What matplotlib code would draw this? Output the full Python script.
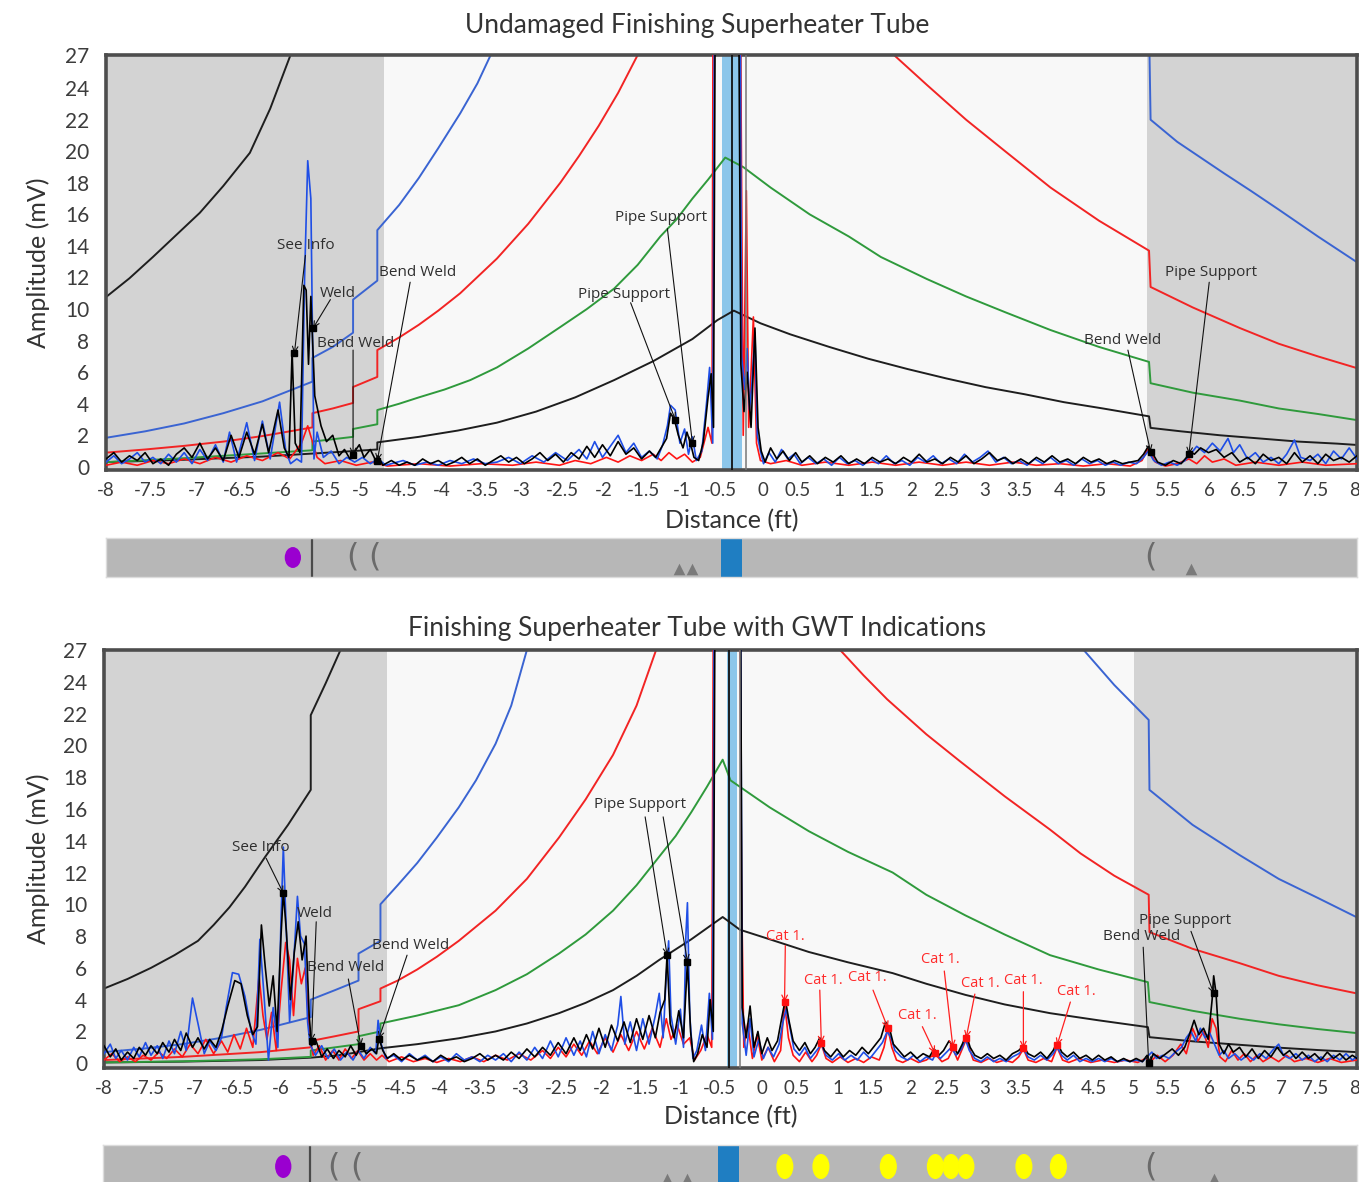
import matplotlib
matplotlib.use("Agg")
import matplotlib.pyplot as plt
from matplotlib.patches import Ellipse, Rectangle

# ---- axis ticks (label text sits where it sits in the source image) ----
tick_pos = [-8.0, -7.43, -6.84, -6.29, -5.74, -5.21, -4.74, -4.22, -3.71, -3.19, -2.68,
            -2.16, -1.64, -1.13, -0.63, -0.14, 0.40, 0.84, 1.37, 1.79, 2.30, 2.75, 3.24,
            3.68, 4.19, 4.64, 5.15, 5.59, 6.11, 6.54, 7.04, 7.47, 7.97]
tick_labels = ['-8', '-7.5', '-7', '-6.5', '-6', '-5.5', '-5', '-4.5', '-4', '-3.5', '-3',
               '-2.5', '-2', '-1.5', '-1', '-0.5', '0', '0.5', '1', '1.5', '2', '2.5', '3',
               '3.5', '4', '4.5', '5', '5.5', '6', '6.5', '7', '7.5', '8']
ytick_vals = [0, 2, 4, 6, 8, 10, 12, 14, 16, 18, 20, 22, 24]
ytick_labels = ['0', '2', '4', '6', '8', '10', '12', '14', '16', '18', '20', '22', '24']

# ---- gated (gray) zones ----
top_gray = [(-8.0, -4.44), (5.31, 8.0)]
bot_gray = [(-8.0, -4.39), (5.15, 8.0)]

# ---- DAC curves, top panel ----
top_dac_black_x = [-8.0, -7.5, -7.0, -6.5, -6.0, -5.5, -5.0, -4.53, -4.53, -4.0, -3.5, -3.0, -2.5, -2.0, -1.5,
                   -1.0, -0.5, -0.18, 0.03, 0.37, 0.75, 1.25, 1.75, 2.25, 2.75, 3.25, 3.75, 4.25, 4.75, 5.34,
                   5.36, 5.75, 6.25, 6.75, 7.25, 7.75, 7.99]
top_dac_black_y = [0.3, 0.37, 0.45, 0.55, 0.65, 0.8, 0.95, 1.1, 1.55, 1.9, 2.3, 2.8, 3.5, 4.4, 5.5,
                   6.7, 8.1, 9.3, 9.9, 9.1, 8.4, 7.6, 6.85, 6.2, 5.6, 5.05, 4.6, 4.1, 3.7, 3.2,
                   2.47, 2.25, 2.0, 1.8, 1.6, 1.47, 1.39]
top_dac_green_x = [-8.0, -7.5, -7.0, -6.5, -6.0, -5.36, -5.36, -5.1, -4.84, -4.84, -4.53, -4.53, -4.25, -4.0,
                   -3.67, -3.34, -3.0, -2.6, -2.19, -1.85, -1.5, -1.2, -0.91, -0.7, -0.5, -0.3, -0.08,
                   0.15, 0.5, 1.0, 1.5, 1.91, 2.5, 3.0, 3.5, 4.08, 4.7, 5.34, 5.36, 5.9, 6.5, 7.0, 7.5, 7.99]
top_dac_green_y = [0.3, 0.42, 0.55, 0.7, 0.85, 1.05, 1.6, 1.75, 1.9, 2.4, 2.7, 3.6, 4.0, 4.4,
                   4.9, 5.5, 6.3, 7.5, 8.86, 10.0, 11.3, 12.8, 14.6, 15.7, 17.0, 18.2, 19.6,
                   19.0, 17.7, 16.0, 14.6, 13.3, 11.9, 10.8, 9.8, 8.67, 7.6, 6.65, 5.3, 4.7, 4.2, 3.7, 3.35, 2.97]
top_dac_red_x = [-8.0, -7.5, -7.0, -6.5, -6.0, -5.36, -5.36, -5.1, -4.84, -4.84, -4.53, -4.53, -4.25, -4.0,
                 -3.75, -3.47, -3.0, -2.6, -2.19, -1.95, -1.7, -1.45, -1.2, -0.9, -0.8,
                 1.5, 1.8, 2.1, 2.5, 3.0, 3.5, 4.08, 4.7, 5.34, 5.36, 5.9, 6.5, 7.0, 7.5, 7.99]
top_dac_red_y = [0.9, 1.1, 1.33, 1.6, 1.95, 2.5, 3.4, 3.7, 4.05, 5.06, 5.7, 7.4, 8.2, 9.0,
                 9.9, 11.0, 13.2, 15.4, 18.0, 19.7, 21.6, 23.7, 26.1, 29.0, 30.0,
                 29.2, 27.6, 26.0, 24.2, 22.0, 20.0, 17.7, 15.6, 13.7, 11.4, 10.1, 8.8, 7.8, 7.0, 6.27]
top_dac_blue_x = [-8.0, -7.5, -7.0, -6.5, -6.0, -5.36, -5.36, -5.1, -4.84, -4.84, -4.53, -4.53, -4.25, -4.0,
                  -3.75, -3.47, -3.25, -3.08, -2.8, -2.5,
                  4.5, 5.34, 5.36, 5.7, 6.0, 6.3, 6.64, 7.0, 7.5, 7.99]
top_dac_blue_y = [1.84, 2.25, 2.75, 3.4, 4.15, 5.4, 6.9, 7.6, 8.5, 10.6, 11.8, 15.0, 16.6, 18.3,
                  20.2, 22.4, 24.3, 26.1, 29.0, 32.0,
                  32.0, 28.0, 22.0, 20.6, 19.6, 18.6, 17.5, 16.3, 14.6, 13.0]
top_far_x = [-8.0, -7.7, -7.4, -7.1, -6.8, -6.5, -6.16, -5.9, -5.64, -5.4]
top_far_y = [10.76, 11.95, 13.3, 14.7, 16.1, 17.8, 19.9, 22.7, 26.1, 29.0]

# ---- DAC curves, bottom panel ----
bot_dac_black_x = [-8.0, -7.0, -6.0, -5.36, -5.0, -4.75, -4.47, -4.0, -3.47, -3.0, -2.6, -2.19, -1.85, -1.5,
                   -1.2, -0.91, -0.5, -0.1, 0.12, 0.5, 1.0, 1.5, 2.07, 2.5, 3.0, 3.5, 4.08, 4.7, 5.33,
                   5.35, 5.9, 6.5, 7.0, 7.5, 7.99]
bot_dac_black_y = [0.05, 0.1, 0.2, 0.35, 0.5, 0.7, 0.94, 1.2, 1.57, 2.0, 2.5, 3.15, 3.8, 4.6,
                   5.5, 6.5, 7.8, 9.2, 8.4, 7.8, 7.0, 6.35, 5.67, 5.0, 4.3, 3.7, 3.15, 2.7, 2.27,
                   1.64, 1.38, 1.16, 0.98, 0.83, 0.7]
bot_dac_green_x = [-8.0, -7.0, -6.0, -5.36, -5.36, -5.05, -4.75, -4.75, -4.47, -4.47, -4.0, -3.47, -3.0, -2.6,
                   -2.19, -1.85, -1.5, -1.2, -0.91, -0.7, -0.5, -0.3, -0.1, 0.0, 0.5, 1.0, 1.5, 2.07, 2.5,
                   3.0, 3.5, 4.08, 4.7, 5.33, 5.35, 5.9, 6.5, 7.0, 7.5, 7.99]
bot_dac_green_y = [0.05, 0.12, 0.25, 0.4, 0.8, 1.0, 1.2, 1.7, 2.0, 2.5, 3.0, 3.65, 4.6, 5.6,
                   6.9, 8.1, 9.6, 11.2, 13.0, 14.3, 15.8, 17.4, 19.1, 17.8, 16.1, 14.6, 13.3, 12.0, 10.6,
                   9.3, 8.1, 6.8, 5.9, 5.1, 3.85, 3.3, 2.8, 2.45, 2.15, 1.9]
bot_dac_red_x = [-8.0, -7.5, -7.0, -6.5, -6.0, -5.36, -5.36, -5.05, -4.75, -4.75, -4.47, -4.47, -4.25, -4.0,
                 -3.75, -3.47, -3.0, -2.6, -2.19, -1.85, -1.5, -1.2, -0.95, -0.6,
                 1.0, 1.4, 1.7, 2.0, 2.5, 2.93, 3.5, 4.08, 4.47, 4.9, 5.34, 5.35, 5.9, 6.5, 7.0, 7.5, 7.99]
bot_dac_red_y = [0.2, 0.3, 0.4, 0.55, 0.7, 1.0, 1.4, 1.7, 2.0, 3.4, 3.9, 4.7, 5.2, 5.9,
                 6.7, 7.7, 9.6, 11.6, 14.2, 16.6, 19.4, 22.5, 26.0, 31.0,
                 30.0, 26.0, 24.4, 22.9, 20.7, 19.0, 16.8, 14.7, 13.2, 11.8, 10.6, 8.25, 7.2, 6.3, 5.5, 4.9, 4.4]
bot_dac_blue_x = [-8.0, -7.5, -7.0, -6.5, -6.0, -5.36, -5.36, -5.05, -4.75, -4.75, -4.47, -4.47, -4.25, -4.0,
                  -3.75, -3.47, -3.25, -3.0, -2.8, -2.6, -2.3,
                  3.8, 4.2, 4.51, 4.9, 5.34, 5.35, 5.9, 6.5, 7.0, 7.5, 7.99]
bot_dac_blue_y = [0.7, 0.92, 1.2, 1.6, 2.1, 2.9, 4.0, 4.6, 5.2, 6.9, 7.7, 10.0, 11.2, 12.6,
                  14.2, 16.1, 17.8, 20.1, 22.5, 26.0, 30.0,
                  30.0, 27.8, 26.0, 23.8, 21.6, 17.2, 15.0, 13.1, 11.6, 10.4, 9.2]
bot_far_x = [-8.0, -7.7, -7.4, -7.1, -6.8, -6.6, -6.4, -6.2, -5.94, -5.65, -5.36, -5.36, -5.17, -4.98, -4.8]
bot_far_y = [4.7, 5.3, 6.0, 6.8, 7.7, 8.7, 9.8, 11.1, 13.0, 15.0, 17.2, 21.9, 23.9, 26.0, 28.0]

# ---- signal traces, top panel (distance, amplitude) ----
top_black = [(-8.0, 0.5), (-7.9, 0.9), (-7.8, 0.3), (-7.7, 0.7), (-7.6, 0.4), (-7.5, 0.9), (-7.4, 0.2), (-7.3, 0.5),
             (-7.2, 0.1), (-7.1, 0.8), (-7.0, 1.2), (-6.9, 0.6), (-6.8, 1.5), (-6.7, 0.5), (-6.6, 1.2), (-6.5, 0.4),
             (-6.4, 2.0), (-6.3, 0.6), (-6.2, 2.2), (-6.1, 0.8), (-6.0, 2.7), (-5.92, 0.9), (-5.8, 3.6), (-5.72, 1.2),
             (-5.66, 0.6), (-5.62, 7.3), (-5.58, 1.5), (-5.52, 0.9), (-5.47, 11.5), (-5.44, 11.2), (-5.41, 6.5),
             (-5.38, 10.8), (-5.33, 4.5), (-5.25, 2.6), (-5.18, 1.6), (-5.1, 2.0), (-5.02, 0.7), (-4.95, 1.1),
             (-4.88, 0.5), (-4.83, 0.9), (-4.76, 1.4), (-4.7, 0.6), (-4.62, 1.1), (-4.55, 0.4), (-4.52, 0.7),
             (-4.46, 0.1), (-4.35, 0.4), (-4.25, 0.1), (-4.15, 0.3), (-4.05, 0.1), (-3.95, 0.5), (-3.85, 0.2),
             (-3.75, 0.4), (-3.65, 0.1), (-3.55, 0.3), (-3.45, 0.6), (-3.35, 0.2), (-3.25, 0.5), (-3.15, 0.1),
             (-3.05, 0.4), (-2.95, 0.7), (-2.85, 0.3), (-2.75, 0.6), (-2.65, 0.2), (-2.55, 0.5), (-2.45, 0.9),
             (-2.35, 0.4), (-2.25, 0.8), (-2.15, 0.3), (-2.05, 0.9), (-1.95, 0.5), (-1.85, 1.3), (-1.75, 0.6),
             (-1.65, 1.4), (-1.55, 0.7), (-1.45, 1.6), (-1.35, 0.8), (-1.25, 1.2), (-1.15, 0.5), (-1.05, 1.0),
             (-0.97, 0.6), (-0.9, 1.2), (-0.83, 1.8), (-0.78, 3.4), (-0.73, 3.0), (-0.68, 2.0), (-0.62, 1.2),
             (-0.57, 2.2), (-0.52, 1.4), (-0.48, 0.6), (-0.42, 0.4), (-0.36, 1.6), (-0.3, 4.4), (-0.26, 5.9),
             (-0.23, 2.5), (-0.2, 40), (0.08, 40), (0.12, 6.5), (0.16, 3.5), (0.2, 6.0), (0.25, 2.5), (0.3, 8.8),
             (0.34, 2.5), (0.38, 1.0), (0.43, 0.3), (0.5, 1.2), (0.58, 0.5), (0.66, 1.0), (0.74, 0.4), (0.82, 0.9),
             (0.9, 0.3), (1.0, 0.7), (1.1, 0.2), (1.2, 0.6), (1.3, 0.3), (1.4, 0.7), (1.5, 0.2), (1.6, 0.5),
             (1.7, 0.2), (1.8, 0.6), (1.9, 0.3), (2.0, 0.5), (2.1, 0.2), (2.2, 0.6), (2.3, 0.3), (2.4, 0.8),
             (2.5, 0.3), (2.6, 0.5), (2.7, 0.2), (2.8, 0.6), (2.9, 0.3), (3.0, 0.7), (3.1, 0.2), (3.2, 0.5),
             (3.3, 0.9), (3.4, 0.4), (3.5, 0.6), (3.6, 0.2), (3.7, 0.5), (3.8, 0.2), (3.9, 0.6), (4.0, 0.3),
             (4.1, 0.7), (4.2, 0.3), (4.3, 0.5), (4.4, 0.2), (4.5, 0.6), (4.6, 0.3), (4.7, 0.5), (4.8, 0.2),
             (4.9, 0.4), (5.0, 0.2), (5.1, 0.3), (5.2, 0.4), (5.27, 0.8), (5.33, 1.3), (5.38, 0.9), (5.45, 0.3),
             (5.55, 0.1), (5.65, 0.4), (5.75, 0.2), (5.82, 0.6), (5.86, 1.0), (5.92, 0.8), (6.0, 1.2), (6.1, 0.9),
             (6.2, 1.1), (6.3, 0.6), (6.4, 0.9), (6.5, 0.3), (6.6, 0.6), (6.7, 0.2), (6.8, 0.8), (6.9, 0.4),
             (7.0, 0.6), (7.1, 0.2), (7.2, 0.9), (7.3, 0.3), (7.4, 0.7), (7.5, 0.2), (7.6, 0.8), (7.7, 0.4),
             (7.8, 0.6), (7.9, 0.3), (8.0, 0.7)]
top_blue = [(-8.0, 0.3), (-7.9, 0.7), (-7.8, 0.2), (-7.7, 0.5), (-7.6, 0.9), (-7.5, 0.3), (-7.4, 0.6), (-7.3, 0.2),
            (-7.2, 0.8), (-7.1, 0.3), (-7.0, 0.9), (-6.9, 0.2), (-6.8, 1.1), (-6.7, 0.4), (-6.6, 1.4), (-6.5, 0.3),
            (-6.42, 2.2), (-6.33, 0.3), (-6.2, 2.8), (-6.1, 0.4), (-6.0, 2.9), (-5.9, 0.5), (-5.78, 4.1), (-5.7, 1.0),
            (-5.64, 0.2), (-5.56, 0.5), (-5.5, 0.3), (-5.46, 12.0), (-5.42, 19.4), (-5.38, 17.0), (-5.34, 0.5),
            (-5.3, 2.2), (-5.22, 0.6), (-5.12, 1.0), (-5.02, 0.2), (-4.92, 0.6), (-4.82, 0.3), (-4.72, 0.6),
            (-4.62, 0.2), (-4.52, 0.5), (-4.42, 0.1), (-4.35, 0.2), (-4.2, 0.4), (-4.05, 0.1), (-3.9, 0.3),
            (-3.75, 0.1), (-3.6, 0.4), (-3.45, 0.2), (-3.3, 0.5), (-3.15, 0.2), (-3.0, 0.3), (-2.85, 0.6),
            (-2.7, 0.2), (-2.55, 0.7), (-2.4, 0.3), (-2.25, 0.9), (-2.1, 0.4), (-1.95, 1.1), (-1.85, 0.5),
            (-1.75, 1.6), (-1.65, 0.6), (-1.55, 1.3), (-1.45, 2.0), (-1.35, 0.9), (-1.25, 1.5), (-1.15, 0.6),
            (-1.05, 1.0), (-0.95, 0.5), (-0.88, 1.4), (-0.82, 2.6), (-0.78, 3.9), (-0.72, 3.6), (-0.66, 1.5),
            (-0.6, 2.4), (-0.55, 0.8), (-0.5, 1.9), (-0.45, 0.4), (-0.38, 1.0), (-0.32, 4.0), (-0.28, 6.3),
            (-0.24, 1.5), (-0.21, 40), (0.1, 40), (0.13, 7.0), (0.17, 4.9), (0.2, 7.5), (0.23, 3.6), (0.26, 5.2),
            (0.3, 8.5), (0.33, 2.0), (0.37, 1.0), (0.41, 0.2), (0.48, 0.9), (0.56, 0.3), (0.64, 1.1), (0.72, 0.5),
            (0.8, 0.8), (0.88, 0.2), (0.98, 0.6), (1.08, 0.2), (1.18, 0.5), (1.28, 0.1), (1.38, 0.6), (1.48, 0.2),
            (1.58, 0.4), (1.68, 0.1), (1.78, 0.5), (1.88, 0.2), (1.98, 0.7), (2.08, 0.2), (2.18, 0.4), (2.28, 0.1),
            (2.38, 0.6), (2.48, 0.3), (2.58, 0.7), (2.68, 0.2), (2.78, 0.5), (2.88, 0.2), (2.98, 0.8), (3.08, 0.3),
            (3.18, 0.6), (3.28, 1.0), (3.38, 0.3), (3.48, 0.6), (3.58, 0.2), (3.68, 0.4), (3.78, 0.1), (3.88, 0.5),
            (3.98, 0.2), (4.08, 0.6), (4.18, 0.2), (4.28, 0.4), (4.38, 0.1), (4.48, 0.5), (4.58, 0.2), (4.68, 0.4),
            (4.78, 0.1), (4.88, 0.3), (4.98, 0.1), (5.08, 0.3), (5.18, 0.2), (5.27, 0.6), (5.33, 1.0), (5.4, 0.4),
            (5.5, 0.1), (5.6, 0.3), (5.7, 0.1), (5.8, 0.4), (5.87, 0.8), (5.95, 1.3), (6.05, 0.9), (6.15, 1.5),
            (6.25, 1.0), (6.35, 1.8), (6.42, 0.9), (6.5, 1.4), (6.6, 0.5), (6.7, 0.9), (6.8, 0.3), (6.9, 0.6),
            (7.0, 0.2), (7.1, 0.8), (7.2, 1.7), (7.28, 0.6), (7.4, 0.4), (7.5, 0.8), (7.6, 0.2), (7.7, 1.0),
            (7.8, 0.5), (7.9, 1.2), (8.0, 0.5)]
top_red = [(-8.0, 0.1), (-7.8, 0.3), (-7.6, 0.1), (-7.4, 0.4), (-7.2, 0.2), (-7.0, 0.5), (-6.8, 0.2), (-6.6, 0.6),
           (-6.4, 0.3), (-6.2, 0.7), (-6.0, 0.4), (-5.8, 0.9), (-5.65, 0.5), (-5.5, 1.5), (-5.42, 2.6), (-5.36, 1.6),
           (-5.3, 0.6), (-5.2, 0.2), (-5.0, 0.4), (-4.8, 0.1), (-4.6, 0.3), (-4.4, 0.05), (-4.0, 0.2), (-3.6, 0.05),
           (-3.2, 0.2), (-2.8, 0.1), (-2.5, 0.3), (-2.2, 0.1), (-2.0, 0.4), (-1.8, 0.2), (-1.6, 0.6), (-1.45, 0.3),
           (-1.3, 0.7), (-1.15, 0.4), (-1.0, 0.8), (-0.9, 0.4), (-0.8, 0.9), (-0.7, 0.5), (-0.6, 0.8), (-0.5, 0.3),
           (-0.4, 0.6), (-0.3, 2.5), (-0.25, 1.5), (-0.23, 40), (0.1, 40), (0.15, 2.0), (0.19, 17.5), (0.22, 2.5),
           (0.28, 9.5), (0.32, 1.5), (0.37, 0.4), (0.5, 0.2), (0.7, 0.4), (0.9, 0.1), (1.2, 0.3), (1.5, 0.1),
           (1.8, 0.3), (2.1, 0.1), (2.4, 0.3), (2.7, 0.1), (3.0, 0.3), (3.3, 0.1), (3.6, 0.3), (3.9, 0.1),
           (4.2, 0.2), (4.5, 0.05), (4.8, 0.2), (5.1, 0.05), (5.25, 0.4), (5.33, 1.2), (5.42, 0.3), (5.55, 0.05),
           (5.7, 0.2), (5.85, 0.5), (5.95, 0.2), (6.05, 0.7), (6.15, 0.3), (6.3, 0.5), (6.45, 0.1), (6.7, 0.3),
           (7.0, 0.1), (7.3, 0.3), (7.6, 0.1), (8.0, 0.2)]

# ---- signal traces, bottom panel ----
bot_black = [(-8.0, 1.1), (-7.92, 0.4), (-7.85, 0.9), (-7.78, 0.2), (-7.7, 0.7), (-7.62, 0.3), (-7.55, 1.0),
             (-7.47, 0.5), (-7.4, 1.1), (-7.32, 0.6), (-7.25, 1.3), (-7.17, 0.7), (-7.1, 1.5), (-7.02, 0.8),
             (-6.95, 1.9), (-6.87, 1.0), (-6.8, 1.6), (-6.72, 0.9), (-6.65, 1.5), (-6.57, 1.0), (-6.5, 2.0),
             (-6.42, 3.6), (-6.33, 5.2), (-6.25, 5.0), (-6.17, 3.0), (-6.1, 1.8), (-6.04, 2.3), (-5.99, 8.7),
             (-5.94, 6.0), (-5.89, 3.6), (-5.84, 5.5), (-5.79, 2.0), (-5.74, 8.0), (-5.71, 10.8), (-5.67, 8.2),
             (-5.62, 4.0), (-5.57, 7.0), (-5.52, 8.9), (-5.47, 6.5), (-5.42, 8.0), (-5.38, 3.0), (-5.35, 1.1),
             (-5.3, 1.5), (-5.22, 0.4), (-5.15, 0.9), (-5.07, 0.3), (-5.0, 0.8), (-4.92, 0.4), (-4.85, 1.1),
             (-4.78, 0.5), (-4.72, 1.1), (-4.65, 0.6), (-4.58, 0.9), (-4.52, 0.6), (-4.49, 1.6), (-4.44, 0.8),
             (-4.38, 0.3), (-4.3, 0.6), (-4.2, 0.2), (-4.1, 0.5), (-4.0, 0.2), (-3.9, 0.4), (-3.8, 0.1), (-3.7, 0.5),
             (-3.6, 0.2), (-3.5, 0.4), (-3.4, 0.1), (-3.3, 0.3), (-3.2, 0.6), (-3.1, 0.2), (-3.0, 0.5), (-2.9, 0.2),
             (-2.8, 0.7), (-2.7, 0.3), (-2.6, 0.9), (-2.5, 0.4), (-2.4, 1.0), (-2.3, 0.5), (-2.2, 1.3), (-2.1, 0.6),
             (-2.0, 1.6), (-1.92, 0.8), (-1.84, 1.8), (-1.76, 0.9), (-1.68, 2.2), (-1.6, 1.0), (-1.52, 2.4),
             (-1.44, 1.4), (-1.36, 2.6), (-1.28, 1.3), (-1.2, 2.8), (-1.12, 1.5), (-1.04, 3.0), (-0.96, 1.6),
             (-0.9, 3.2), (-0.84, 4.0), (-0.81, 6.8), (-0.77, 2.5), (-0.72, 1.6), (-0.66, 3.3), (-0.6, 1.6),
             (-0.55, 6.4), (-0.51, 2.0), (-0.47, 0.1), (-0.42, 0.6), (-0.36, 1.8), (-0.3, 1.0), (-0.26, 4.0),
             (-0.22, 2.0), (-0.19, 40), (0.12, 40), (0.15, 3.5), (0.2, 1.6), (0.25, 3.6), (0.3, 1.0), (0.35, 2.0),
             (0.4, 0.6), (0.47, 1.6), (0.53, 0.8), (0.6, 1.4), (0.66, 3.0), (0.7, 4.0), (0.75, 2.6), (0.8, 1.4),
             (0.88, 0.8), (0.95, 1.3), (1.02, 0.6), (1.08, 1.0), (1.14, 1.6), (1.2, 0.8), (1.28, 0.4), (1.36, 0.9),
             (1.44, 0.4), (1.52, 0.8), (1.6, 0.5), (1.68, 1.0), (1.76, 0.6), (1.84, 1.1), (1.92, 1.6), (1.98, 2.6),
             (2.03, 2.2), (2.08, 1.2), (2.15, 0.8), (2.22, 0.4), (2.3, 0.7), (2.38, 0.3), (2.46, 0.6), (2.54, 0.4),
             (2.6, 0.9), (2.66, 0.5), (2.72, 0.8), (2.79, 1.4), (2.84, 1.1), (2.9, 0.6), (2.96, 1.2), (3.01, 1.8),
             (3.06, 1.0), (3.12, 0.5), (3.2, 0.3), (3.28, 0.6), (3.36, 0.3), (3.44, 0.5), (3.52, 0.2), (3.6, 0.6),
             (3.68, 0.8), (3.74, 1.1), (3.8, 0.6), (3.88, 0.4), (3.96, 0.7), (4.04, 0.3), (4.12, 0.8), (4.17, 1.3),
             (4.23, 0.7), (4.3, 0.4), (4.38, 0.7), (4.46, 0.3), (4.54, 0.5), (4.62, 0.2), (4.7, 0.5), (4.78, 0.2),
             (4.86, 0.4), (4.94, 0.1), (5.02, 0.3), (5.1, 0.1), (5.18, 0.3), (5.26, 0.1), (5.32, 0.5), (5.35, 0.0),
             (5.4, 0.6), (5.48, 0.3), (5.56, 0.6), (5.64, 0.9), (5.72, 0.5), (5.8, 1.0), (5.86, 1.8), (5.92, 2.7),
             (5.98, 1.8), (6.04, 2.2), (6.1, 1.5), (6.15, 4.0), (6.17, 5.5), (6.2, 4.4), (6.24, 1.2), (6.3, 0.6),
             (6.36, 1.2), (6.42, 0.7), (6.5, 1.0), (6.58, 0.4), (6.66, 0.9), (6.74, 0.3), (6.82, 0.8), (6.9, 0.4),
             (6.98, 1.0), (7.06, 0.5), (7.14, 0.8), (7.22, 0.3), (7.3, 0.7), (7.38, 0.3), (7.46, 0.6), (7.54, 0.2),
             (7.62, 0.7), (7.7, 0.3), (7.78, 0.6), (7.86, 0.2), (7.94, 0.5), (8.0, 0.3)]
bot_blue = [(-8.0, 0.6), (-7.92, 1.2), (-7.85, 0.3), (-7.78, 0.8), (-7.7, 0.2), (-7.62, 1.0), (-7.55, 0.4),
            (-7.47, 1.3), (-7.4, 0.5), (-7.32, 1.1), (-7.25, 0.3), (-7.17, 1.4), (-7.1, 0.6), (-7.02, 2.0),
            (-6.95, 0.8), (-6.87, 4.1), (-6.8, 2.5), (-6.72, 0.6), (-6.65, 1.4), (-6.57, 0.8), (-6.5, 1.6),
            (-6.44, 3.5), (-6.36, 5.7), (-6.28, 5.6), (-6.2, 4.2), (-6.12, 2.0), (-6.06, 1.2), (-6.01, 7.8),
            (-5.96, 4.5), (-5.9, 0.2), (-5.84, 3.5), (-5.78, 1.0), (-5.74, 9.0), (-5.71, 13.6), (-5.68, 9.5),
            (-5.63, 2.6), (-5.58, 6.2), (-5.53, 10.5), (-5.49, 8.0), (-5.44, 7.5), (-5.4, 2.6), (-5.37, 1.2),
            (-5.3, 0.5), (-5.22, 1.1), (-5.14, 0.3), (-5.06, 0.9), (-4.98, 0.2), (-4.9, 0.7), (-4.82, 0.2),
            (-4.75, 0.8), (-4.68, 0.3), (-4.6, 1.0), (-4.53, 0.6), (-4.5, 2.7), (-4.46, 1.2), (-4.4, 0.3),
            (-4.3, 0.5), (-4.2, 0.1), (-4.1, 0.6), (-4.0, 0.2), (-3.9, 0.5), (-3.8, 0.1), (-3.7, 0.4), (-3.6, 0.1),
            (-3.5, 0.6), (-3.4, 0.2), (-3.3, 0.4), (-3.2, 0.1), (-3.1, 0.5), (-3.0, 0.2), (-2.9, 0.6), (-2.8, 0.1),
            (-2.7, 0.7), (-2.6, 0.2), (-2.5, 1.0), (-2.4, 0.3), (-2.3, 1.4), (-2.2, 0.4), (-2.1, 1.6), (-2.0, 0.5),
            (-1.92, 1.4), (-1.84, 0.4), (-1.76, 2.0), (-1.68, 0.6), (-1.6, 1.8), (-1.52, 0.8), (-1.44, 2.4),
            (-1.4, 4.2), (-1.35, 1.2), (-1.28, 2.6), (-1.2, 0.8), (-1.12, 2.8), (-1.04, 1.2), (-0.96, 3.0),
            (-0.91, 4.4), (-0.86, 1.6), (-0.82, 5.5), (-0.79, 7.7), (-0.76, 3.0), (-0.7, 1.2), (-0.64, 3.4),
            (-0.6, 1.0), (-0.57, 8.0), (-0.55, 10.1), (-0.52, 3.0), (-0.48, 0.3), (-0.43, 0.8), (-0.37, 2.4),
            (-0.32, 0.8), (-0.27, 4.4), (-0.23, 1.5), (-0.2, 40), (0.12, 40), (0.15, 2.5), (0.2, 0.5), (0.25, 2.8),
            (0.3, 0.4), (0.36, 1.5), (0.42, 0.3), (0.48, 1.0), (0.55, 0.4), (0.62, 1.2), (0.67, 2.6), (0.71, 3.4),
            (0.76, 2.2), (0.81, 0.9), (0.88, 0.5), (0.95, 1.0), (1.02, 0.3), (1.1, 0.8), (1.16, 1.2), (1.22, 0.5),
            (1.3, 0.2), (1.38, 0.6), (1.46, 0.2), (1.54, 0.5), (1.62, 0.2), (1.7, 0.7), (1.78, 0.3), (1.86, 0.8),
            (1.94, 1.3), (2.0, 2.0), (2.05, 1.6), (2.1, 0.8), (2.18, 0.4), (2.26, 0.2), (2.34, 0.5), (2.42, 0.1),
            (2.5, 0.4), (2.58, 0.2), (2.62, 0.6), (2.68, 0.3), (2.76, 0.7), (2.82, 1.0), (2.88, 0.5), (2.95, 0.9),
            (3.0, 1.5), (3.05, 0.8), (3.12, 0.3), (3.2, 0.1), (3.28, 0.4), (3.36, 0.1), (3.44, 0.3), (3.52, 0.1),
            (3.6, 0.4), (3.68, 0.6), (3.74, 0.9), (3.8, 0.4), (3.88, 0.2), (3.96, 0.5), (4.04, 0.2), (4.12, 0.6),
            (4.17, 1.0), (4.23, 0.5), (4.3, 0.2), (4.38, 0.5), (4.46, 0.1), (4.54, 0.3), (4.62, 0.1), (4.7, 0.3),
            (4.78, 0.1), (4.86, 0.3), (4.94, 0.1), (5.02, 0.2), (5.1, 0.1), (5.18, 0.2), (5.26, 0.1), (5.32, 0.4),
            (5.38, 0.7), (5.44, 0.3), (5.52, 0.5), (5.6, 0.3), (5.68, 0.7), (5.76, 1.0), (5.82, 1.6), (5.88, 2.0),
            (5.94, 1.4), (6.0, 2.2), (6.06, 1.6), (6.12, 1.9), (6.18, 1.2), (6.24, 0.5), (6.3, 0.8), (6.36, 0.3),
            (6.44, 0.6), (6.52, 0.2), (6.6, 0.5), (6.68, 0.2), (6.76, 0.6), (6.84, 0.3), (6.92, 0.8), (7.0, 1.2),
            (7.06, 0.5), (7.14, 0.3), (7.22, 0.6), (7.3, 0.2), (7.38, 0.5), (7.46, 0.1), (7.54, 0.4), (7.62, 0.1),
            (7.7, 0.5), (7.78, 0.2), (7.86, 0.6), (7.94, 0.2), (8.0, 0.4)]
bot_red = [(-8.0, 0.2), (-7.9, 0.6), (-7.8, 0.1), (-7.7, 0.4), (-7.6, 0.1), (-7.5, 0.5), (-7.4, 0.2), (-7.3, 0.7),
           (-7.2, 0.3), (-7.1, 0.9), (-7.0, 0.4), (-6.9, 1.2), (-6.8, 0.6), (-6.7, 1.5), (-6.6, 0.6), (-6.5, 1.4),
           (-6.42, 0.7), (-6.34, 1.8), (-6.26, 0.9), (-6.18, 2.2), (-6.1, 1.0), (-6.02, 5.5), (-5.97, 3.0),
           (-5.92, 1.5), (-5.86, 3.2), (-5.8, 0.8), (-5.74, 4.5), (-5.68, 7.6), (-5.63, 6.5), (-5.58, 3.0),
           (-5.53, 6.6), (-5.48, 5.0), (-5.43, 6.0), (-5.38, 2.0), (-5.33, 0.5), (-5.25, 1.1), (-5.17, 0.2),
           (-5.08, 0.8), (-5.0, 0.2), (-4.92, 0.9), (-4.84, 0.3), (-4.76, 0.8), (-4.68, 0.2), (-4.6, 0.6),
           (-4.52, 0.2), (-4.45, 0.5), (-4.36, 0.1), (-4.2, 0.4), (-4.05, 0.1), (-3.9, 0.3), (-3.75, 0.05),
           (-3.6, 0.3), (-3.45, 0.1), (-3.3, 0.4), (-3.15, 0.1), (-3.0, 0.5), (-2.85, 0.2), (-2.7, 0.6),
           (-2.55, 0.2), (-2.4, 0.8), (-2.3, 0.3), (-2.2, 1.0), (-2.1, 0.4), (-2.0, 1.2), (-1.9, 0.5), (-1.8, 1.4),
           (-1.7, 0.6), (-1.6, 1.6), (-1.5, 0.7), (-1.4, 1.8), (-1.3, 0.8), (-1.2, 2.0), (-1.1, 0.9), (-1.0, 2.2),
           (-0.9, 1.0), (-0.82, 2.8), (-0.76, 1.5), (-0.68, 2.4), (-0.6, 1.2), (-0.52, 1.6), (-0.46, 0.2),
           (-0.38, 0.8), (-0.3, 1.8), (-0.24, 1.0), (-0.21, 40), (0.11, 40), (0.14, 11.5), (0.17, 1.0), (0.22, 2.5),
           (0.28, 0.3), (0.34, 1.8), (0.4, 0.2), (0.48, 1.0), (0.56, 0.1), (0.64, 0.8), (0.69, 3.8), (0.74, 1.6),
           (0.8, 0.5), (0.88, 0.1), (0.96, 0.7), (1.04, 0.1), (1.1, 0.5), (1.16, 1.2), (1.22, 0.3), (1.3, 0.05),
           (1.4, 0.4), (1.5, 0.05), (1.6, 0.3), (1.7, 0.05), (1.8, 0.4), (1.9, 0.2), (1.96, 1.0), (2.01, 2.2),
           (2.06, 1.0), (2.12, 0.2), (2.2, 0.05), (2.3, 0.3), (2.4, 0.05), (2.5, 0.2), (2.61, 0.6), (2.7, 0.1),
           (2.78, 0.3), (2.84, 0.9), (2.9, 0.2), (3.01, 1.5), (3.1, 0.2), (3.2, 0.05), (3.3, 0.3), (3.4, 0.05),
           (3.5, 0.2), (3.6, 0.05), (3.68, 0.4), (3.74, 0.9), (3.8, 0.2), (3.9, 0.05), (4.0, 0.3), (4.1, 0.1),
           (4.17, 1.0), (4.24, 0.2), (4.32, 0.05), (4.45, 0.3), (4.6, 0.05), (4.75, 0.2), (4.9, 0.05), (5.05, 0.2),
           (5.2, 0.05), (5.3, 0.3), (5.36, 0.1), (5.45, 0.5), (5.55, 0.1), (5.65, 0.5), (5.75, 1.2), (5.82, 0.6),
           (5.9, 2.2), (5.97, 1.4), (6.04, 2.0), (6.1, 1.0), (6.15, 2.8), (6.2, 2.2), (6.25, 0.4), (6.32, 0.1),
           (6.4, 0.8), (6.48, 0.2), (6.56, 0.6), (6.64, 0.1), (6.72, 0.5), (6.8, 0.1), (6.9, 0.4), (7.0, 0.1),
           (7.1, 0.5), (7.2, 0.1), (7.35, 0.3), (7.5, 0.05), (7.65, 0.3), (7.8, 0.05), (8.0, 0.2)]

# ---- call-outs: label, text x, text y, arrow tails, arrow targets ----
top_calls = [
    ('See Info', -5.45, 14.0, [(-5.45, 13.4)], [(-5.59, 7.2)]),
    ('Weld', -5.04, 11.0, [(-5.13, 10.6)], [(-5.35, 8.8)]),
    ('Bend Weld', -4.81, 7.8, [(-4.84, 7.4)], [(-4.84, 0.76)]),
    ('Bend Weld', -4.02, 12.3, [(-4.11, 11.7)], [(-4.53, 0.4)]),
    ('Pipe Support', -0.9, 15.8, [(-0.82, 15.1)], [(-0.5, 1.5)]),
    ('Pipe Support', -1.38, 10.9, [(-1.29, 10.4)], [(-0.72, 3.0)]),
    ('Pipe Support', 6.13, 12.3, [(6.11, 11.7)], [(5.85, 0.8)]),
    ('Bend Weld', 5.0, 8.0, [(5.07, 7.4)], [(5.36, 0.95)]),
]
bot_calls = [
    ('See Info', -6.0, 13.6, [(-5.93, 12.9)], [(-5.71, 10.7)]),
    ('Weld', -5.31, 9.45, [(-5.29, 8.9)], [(-5.35, 1.4)]),
    ('Bend Weld', -4.92, 6.0, [(-4.88, 5.3)], [(-4.72, 1.1)]),
    ('Bend Weld', -4.08, 7.4, [(-4.13, 6.8)], [(-4.49, 1.55)]),
    ('Pipe Support', -1.16, 16.3, [(-1.09, 15.5), (-0.86, 15.5)], [(-0.81, 6.8), (-0.55, 6.4)]),
    ('Pipe Support', 5.8, 9.0, [(5.88, 8.3)], [(6.17, 4.4)]),
    ('Bend Weld', 5.25, 8.0, [(5.27, 7.3)], [(5.34, 0.0)]),
]
cat1_text_x = [0.70, 1.19, 1.75, 2.39, 2.68, 3.19, 3.74, 4.42]
cat1_text_y = [8.0, 5.2, 5.4, 3.0, 6.5, 5.0, 5.2, 4.5]
cat1_tail_x = [0.70, 1.14, 1.82, 2.45, 2.73, 3.12, 3.74, 4.34]
cat1_tail_y = [7.4, 4.6, 4.6, 2.3, 5.8, 4.35, 4.5, 3.85]
cat1_x = [0.69, 1.16, 2.01, 2.61, 2.84, 3.01, 3.74, 4.17]
cat1_y = [3.85, 1.26, 2.2, 0.63, 1.0, 1.6, 0.94, 1.13]

# ---- strip symbols ----
top_strip = dict(purple=[-5.61], weld=[-5.36], bends=[-4.85, -4.57, 5.36], supports=[-0.67, -0.51, 5.88],
                 collar=(-0.13, 0.14), yellow=[])
bot_strip = dict(purple=[-5.70], weld=[-5.36], bends=[-5.06, -4.77, 5.36], supports=[-0.81, -0.55, 6.17],
                 collar=(-0.15, 0.12), yellow=[0.70, 1.16, 2.02, 2.62, 2.82, 3.01, 3.75, 4.19])

W, H = 1359, 1182
fig = plt.figure(figsize=(W / 100, H / 100), dpi=100)
tick_font = dict(family=['Lato', 'DejaVu Sans'], color='#3c3c3c')
note_font = ['Open Sans', 'DejaVu Sans']

DAC_COL = dict(k='#1e1e1e', g='#2f9a3c', r='#f22424', b='#3a64d2')
TRACE_COL = dict(k='#000000', b='#1f4ee6', r='#ff1414')


def draw_panel(rect, gray, ylim, top_label, dacs, far, traces, calls, title, xlabel_y, title_y):
    ax = fig.add_axes(rect)
    ax.set_facecolor('#f8f8f8')
    for a, b in gray:
        ax.axvspan(a, b, color='#d3d3d3', lw=0, zorder=0)
    for (xs, ys), c in dacs:
        ax.plot(xs, ys, color=c, lw=1.4, zorder=2)
    ax.plot(far[0], far[1], color=DAC_COL['k'], lw=1.4, zorder=2)
    for tr, c in traces:
        xs, ys = zip(*tr)
        ax.plot(xs, ys, color=c, lw=1.2, zorder=3)
    for label, tx, ty, tails, targets in calls:
        ax.text(tx, ty, label, ha='center', va='center', fontsize=11, family=note_font,
                color='#2e2e2e', zorder=6)
        for (sx, sy), (ex, ey) in zip(tails, targets):
            ax.annotate('', xy=(ex, ey), xytext=(sx, sy), zorder=6,
                        arrowprops=dict(arrowstyle='->', color='#111111', lw=0.8,
                                        shrinkA=0, shrinkB=0, mutation_scale=10))
            ax.plot(ex, ey, 's', color='#000000', ms=5, zorder=7)
    ax.set_xlim(-8, 8)
    ax.set_ylim(*ylim)
    ax.set_xticks(tick_pos)
    ax.set_xticklabels(tick_labels, fontsize=13.5, **tick_font)
    ax.set_yticks(ytick_vals + [ylim[1]])
    ax.set_yticklabels(ytick_labels + [top_label], fontsize=15, **tick_font)
    ax.tick_params(length=0, pad=9)
    ax.tick_params(axis='y', pad=12)
    for s in ax.spines.values():
        s.set_color('#4d4d4d')
        s.set_linewidth(2.6)
    cx = rect[0] + rect[2] / 2
    fig.text(0.513, title_y, title, ha='center', va='center', fontsize=19, color='#333333',
             family=['Lato', 'DejaVu Sans'])
    fig.text(cx, xlabel_y, 'Distance (ft)', ha='center', va='center', fontsize=18, color='#333333',
             family=['Lato', 'DejaVu Sans'])
    fig.text(0.028, rect[1] + rect[3] / 2, 'Amplitude (mV)', rotation=90, ha='center', va='center',
             fontsize=18, color='#333333', family=['Lato', 'DejaVu Sans'])
    return ax


def draw_strip(rect, s):
    sa = fig.add_axes(rect)
    sa.set_facecolor('#b7b7b7')
    sa.set_xlim(-8, 8)
    sa.set_ylim(0, 1)
    sa.set_xticks([])
    sa.set_yticks([])
    for sp in sa.spines.values():
        sp.set_color('#dcdcdc')
        sp.set_linewidth(1)
    a, b = s['collar']
    sa.add_patch(Rectangle((a, 0), b - a, 1, color='#1f7ec2', lw=0, zorder=2))
    for x in s['weld']:
        sa.plot([x, x], [0, 1], color='#4a4a4a', lw=1.6, zorder=2)
    for x in s['purple']:
        sa.add_patch(Ellipse((x, 0.5), 0.19, 0.5, color='#9a00d0', zorder=3))
    for x in s['yellow']:
        sa.add_patch(Ellipse((x, 0.5), 0.2, 0.55, color='#ffff00', zorder=3))
    for x in s['bends']:
        sa.text(x, 0.5, '(', ha='center', va='center', fontsize=23, color='#6a6a6a', zorder=3)
    sa.scatter(s['supports'], [0.2] * len(s['supports']), marker='^', s=70, color='#7a7a7a',
               lw=0, zorder=3)
    return sa


top_dacs = [((top_dac_black_x, top_dac_black_y), DAC_COL['k']), ((top_dac_green_x, top_dac_green_y), DAC_COL['g']),
            ((top_dac_red_x, top_dac_red_y), DAC_COL['r']), ((top_dac_blue_x, top_dac_blue_y), DAC_COL['b'])]
bot_dacs = [((bot_dac_black_x, bot_dac_black_y), DAC_COL['k']), ((bot_dac_green_x, bot_dac_green_y), DAC_COL['g']),
            ((bot_dac_red_x, bot_dac_red_y), DAC_COL['r']), ((bot_dac_blue_x, bot_dac_blue_y), DAC_COL['b'])]

# top panel
top_rect = [106 / W, 1 - 470 / H, 1251 / W, 415 / H]
ax1 = draw_panel(top_rect, top_gray, (-0.2, 26.1), '27', top_dacs, (top_far_x, top_far_y),
                 [(top_red, TRACE_COL['r']), (top_blue, TRACE_COL['b']), (top_black, TRACE_COL['k'])],
                 top_calls, 'Undamaged Finishing Superheater Tube', 1 - 521 / H, 1 - 25 / H)
ax1.axvspan(-0.12, 0.14, color='#8cc6ea', lw=0, zorder=1)
ax1.axvline(0.0, color='#111111', lw=1.3, zorder=4)
ax1.axvline(0.18, color='#777777', lw=1.1, zorder=4)
draw_strip([106 / W, 1 - 577 / H, 1251 / W, 39 / H], top_strip)

# bottom panel
bot_rect = [104 / W, 1 - 1068 / H, 1253 / W, 418 / H]
ax2 = draw_panel(bot_rect, bot_gray, (-0.3, 26.0), '27', bot_dacs, (bot_far_x, bot_far_y),
                 [(bot_red, TRACE_COL['r']), (bot_blue, TRACE_COL['b']), (bot_black, TRACE_COL['k'])],
                 bot_calls, 'Finishing Superheater Tube with GWT Indications', 1 - 1117 / H, 1 - 629 / H)
ax2.axvspan(-0.05, 0.08, color='#8cc6ea', lw=0, zorder=1)
ax2.axvline(-0.02, color='#111111', lw=1.3, zorder=4)
ax2.axvline(0.12, color='#777777', lw=1.1, zorder=4)
for tx, ty, sx, sy, ex, ey in zip(cat1_text_x, cat1_text_y, cat1_tail_x, cat1_tail_y, cat1_x, cat1_y):
    ax2.text(tx, ty, 'Cat 1.', ha='center', va='center', fontsize=10.5, family=note_font,
             color='#ff2a2a', zorder=6)
    ax2.annotate('', xy=(ex, ey), xytext=(sx, sy), zorder=6,
                 arrowprops=dict(arrowstyle='->', color='#ff2020', lw=0.9,
                                 shrinkA=0, shrinkB=0, mutation_scale=10))
ax2.plot(cat1_x, cat1_y, 's', color='#ff1010', ms=5, zorder=7, ls='none')
draw_strip([103 / W, -6 / H, 1254 / W, 43 / H], bot_strip)

fig.savefig('out.png', dpi=100)
